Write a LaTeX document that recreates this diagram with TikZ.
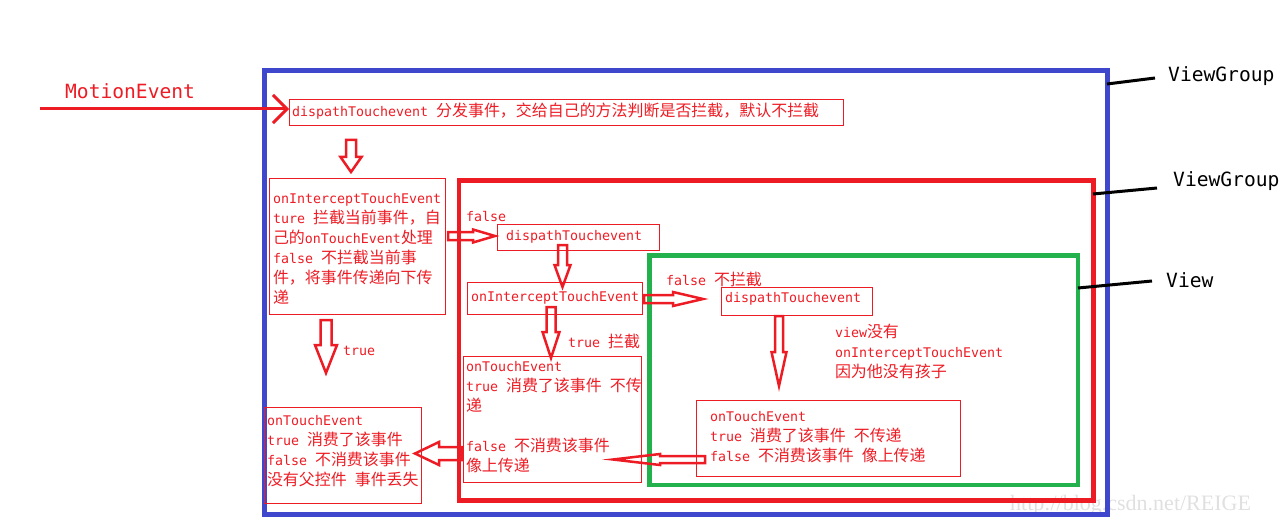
\documentclass[tikz,border=0pt]{standalone}
\usepackage{fontspec}
\setmainfont{DejaVu Sans Mono}
\newfontfamily\cjk{Noto Sans CJK SC}[Scale=1.2]
\newfontfamily\wmfont{Liberation Serif}
\usetikzlibrary{arrows.meta,calc}
\definecolor{pred}{RGB}{237,28,36}
\definecolor{pblue}{RGB}{63,72,204}
\definecolor{pgreen}{RGB}{34,177,76}
\newcommand\zh[1]{{\cjk #1}}
\newcommand\tf{\fontsize{13.3pt}{20pt}\selectfont\lineskiplimit=-20pt\relax}
% hollow block arrow: #1 start, #2 tip, #3 shaft half width, #4 head half width, #5 head length
\newcommand\blkarrow[5]{%
  \path let \p1=#1, \p2=#2, \n1={atan2(\y2-\y1,\x2-\x1)}, \n2={veclen(\x2-\x1,\y2-\y1)} in
    \pgfextra{\pgfmathsetmacro\BAang{\n1}\global\let\BAang\BAang
      \pgfmathsetmacro\BAlen{\n2}\global\let\BAlen\BAlen
      \xdef\BAx{\x1}\xdef\BAy{\y1}};
  \begin{scope}[shift={(\BAx,\BAy)}, rotate=\BAang]
    \draw[blk] (0pt,-#3pt) -- ({\BAlen-#5},-#3pt) -- ({\BAlen-#5},-#4pt) -- ({\BAlen},0pt)
      -- ({\BAlen-#5},#4pt) -- ({\BAlen-#5},#3pt) -- (0pt,#3pt) -- cycle;
  \end{scope}}
\tikzset{
  txt/.style={anchor=north west, inner sep=0pt, outer sep=0pt, align=left, text=pred, font=\tf},
  box/.style={draw=pred, line width=1pt, anchor=north west, inner sep=0pt, outer sep=0pt},
  blk/.style={draw=pred, line width=2.5pt, line join=miter, x=1pt, y=1pt},
  leader/.style={draw=black, line width=3pt},
  big/.style={anchor=west, inner sep=0pt, font=\fontsize{19.6pt}{24pt}\selectfont},
}
\begin{document}
\begin{tikzpicture}[x=1pt,y=-1pt]
\useasboundingbox (0,0) rectangle (1285,524);
% watermark
\node[anchor=west, inner sep=0pt, text=black!12, font=\wmfont\fontsize{22pt}{24pt}\selectfont] (wm) at (1010,505) {http://blog.csdn.net/REIGE};
% frames
\draw[pblue, line width=5pt] (264,70.5) rectangle (1107.5,514.5);
\draw[pred, line width=4.5pt] (459,180.5) rectangle (1093.5,500.5);
\draw[pgreen, line width=4.5pt] (649.5,255.5) rectangle (1078,485);
% side labels
\node[big] (vg1) at (1168,76) {ViewGroup};
\node[big] (vg2) at (1173,181) {ViewGroup};
\node[big] (vw) at (1166,280) {View};
\coordinate (l1a) at (1107,84); \coordinate (l1b) at (1155,78);
\coordinate (l2a) at (1093,194); \coordinate (l2b) at (1157,188);
\coordinate (l3a) at (1078,288); \coordinate (l3b) at (1152,281);
\draw[leader] (l1a) -- (l1b);
\draw[leader] (l2a) -- (l2b);
\draw[leader] (l3a) -- (l3b);
% MotionEvent
\node[big, text=pred] (me) at (65,91) {MotionEvent};
% boxes
\node[box, minimum width=554pt, minimum height=26pt] (top) at (289,100) {};
\node[box, minimum width=176pt, minimum height=136pt] (lint) at (269,178) {};
\node[box, minimum width=157pt, minimum height=96pt] (ltouch) at (264,407) {};
\node[box, minimum width=162pt, minimum height=26pt] (mdisp) at (497,224) {};
\node[box, minimum width=175pt, minimum height=32pt] (mint) at (467,282) {};
\node[box, minimum width=178pt, minimum height=126pt] (mtouch) at (463,356) {};
\node[box, minimum width=151pt, minimum height=28pt] (vdisp) at (721,287) {};
\node[box, minimum width=264pt, minimum height=76pt] (vtouch) at (696,400) {};
% texts
\node[txt] (ttop) at (292,103) {\strut dispathTouchevent \zh{分发事件，交给自己的方法判断是否拦截，默认不拦截}};
\node[txt] (tlint) at (273,189) {\strut onInterceptTouchEvent\\
ture \zh{拦截当前事件，自}\\
\zh{己的}onTouchEvent\zh{处理}\\
false \zh{不拦截当前事}\\
\zh{件，将事件传递向下传}\\
\zh{递}};
\node[txt] (ttrue1) at (343,341) {\strut true};
\node[txt] (tltouch) at (267,411) {\strut onTouchEvent\\
true \zh{消费了该事件}\\
false \zh{不消费该事件}\\
\zh{没有父控件} \zh{事件丢失}};
\node[txt] (tfalse1) at (466,207) {\strut false};
\node[txt] (tmdisp) at (506,226) {\strut dispathTouchevent};
\node[txt] (tmint) at (471,287) {\strut onInterceptTouchEvent};
\node[txt] (ttrue2) at (568,333) {\strut true \zh{拦截}};
\node[txt] (tmtouch) at (466,357) {\strut onTouchEvent\\
true \zh{消费了该事件} \zh{不传}\\
\zh{递}\\
\strut\\
false \zh{不消费该事件}\\
\zh{像上传递}};
\node[txt] (tfalse2) at (666,271) {\strut false \zh{不拦截}};
\node[txt] (tvdisp) at (725,288) {\strut dispathTouchevent};
\node[txt] (tnote) at (835,323) {\strut view\zh{没有}\\
onInterceptTouchEvent\\
\zh{因为他没有孩子}};
\node[txt] (tvtouch) at (710,407) {\strut onTouchEvent\\
true \zh{消费了该事件} \zh{不传递}\\
false \zh{不消费该事件} \zh{像上传递}};
% MotionEvent arrow
\coordinate (mstart) at (40,109);
\draw[pred, line width=3pt, -{Straight Barb[length=14pt,width=28pt]}] (mstart) -- (top.west |- mstart);
% block arrows
\coordinate (a1s) at (351,140);   \coordinate (a1e) at (351,172);
\coordinate (a2s) at (326,320);   \coordinate (a2e) at (326,373);
\coordinate (a3s) at (462,453.5); \coordinate (a3e) at (415,453.5);
\coordinate (a4s) at (448,236);   \coordinate (a4e) at (495,236);
\coordinate (a5s) at (562.5,245); \coordinate (a5e) at (562.5,287);
\coordinate (a6s) at (551,307);   \coordinate (a6e) at (551,358);
\coordinate (a7s) at (644,299);   \coordinate (a7e) at (703,299);
\coordinate (a8s) at (779,316);   \coordinate (a8e) at (779,386);
\coordinate (a9s) at (705,459.5); \coordinate (a9e) at (613,459.5);
\blkarrow{(a1s)}{(a1e)}{5}{10.5}{15}
\blkarrow{(a2s)}{(a2e)}{5.5}{11}{28}
\blkarrow{(a3s)}{(a3e)}{6.5}{11.5}{24}
\blkarrow{(a4s)}{(a4e)}{4}{6.5}{22}
\blkarrow{(a5s)}{(a5e)}{4.5}{8}{22}
\blkarrow{(a6s)}{(a6e)}{4.5}{8.5}{26}
\blkarrow{(a7s)}{(a7e)}{4}{7}{30}
\blkarrow{(a8s)}{(a8e)}{4}{7.5}{34}
\blkarrow{(a9s)}{(a9e)}{3.5}{5.5}{47}
\end{tikzpicture}
\end{document}
